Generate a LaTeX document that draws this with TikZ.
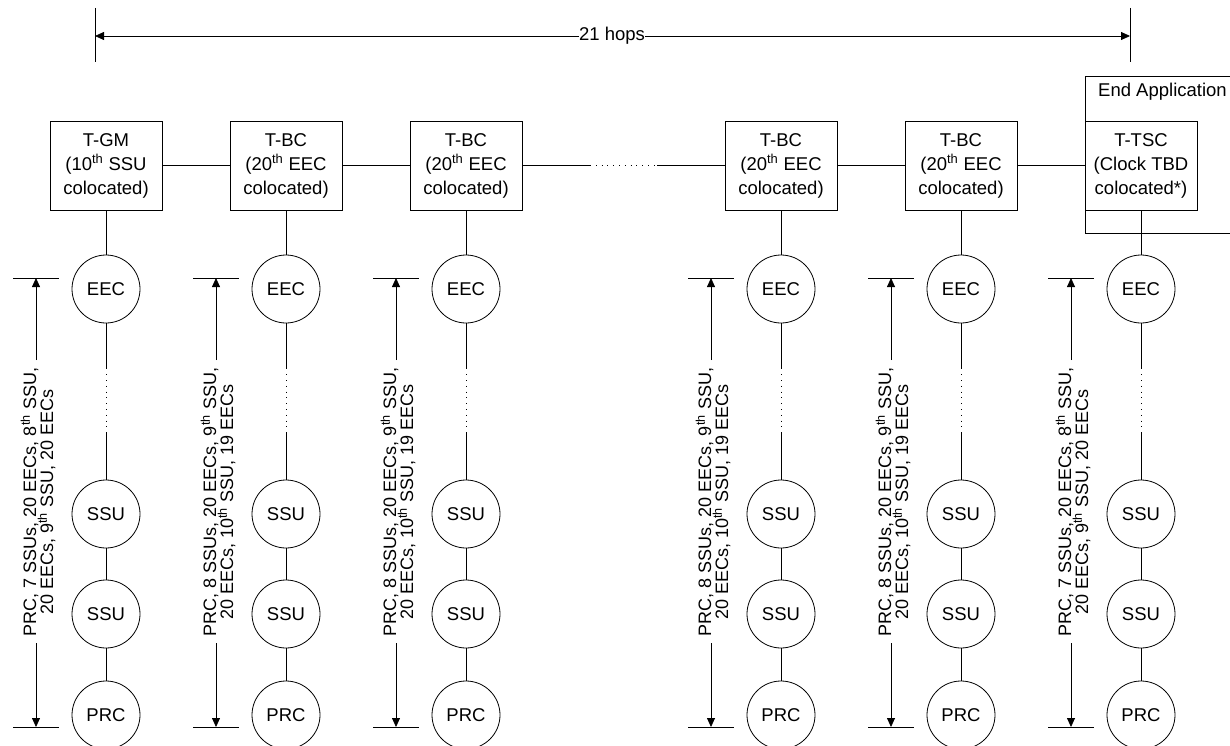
\documentclass[tikz,border=0pt]{standalone}
\usepackage{fontspec}
\setmainfont{Liberation Sans}
\usetikzlibrary{arrows.meta,calc}
\newcommand\mytightlines{\lineskiplimit=-30pt\relax\lineskip=0pt\relax}
\begin{document}
\begin{tikzpicture}[x=1bp,y=-1bp,
  unit/.style={draw, line width=0.8bp, minimum width=112bp, minimum height=89bp, align=center, inner sep=0pt, font=\fontsize{18.5bp}{24bp}\selectfont},
  clk/.style={draw, circle, line width=0.8bp, minimum size=68bp, inner sep=0pt, font=\fontsize{18.5bp}{21bp}\selectfont},
  link/.style={line width=0.8bp},
  dots/.style={line width=0.8bp, dash pattern=on 0.8bp off 5bp},
  dimarrow/.style={line width=0.8bp, -{Triangle[length=9bp,width=8bp]}},
  tickline/.style={line width=0.8bp},
  rlabel/.style={rotate=90, align=center, inner sep=0pt, font=\fontsize{18bp}{17bp}\selectfont\mytightlines},
  plain/.style={inner sep=0pt, font=\fontsize{18.5bp}{21bp}\selectfont}
]
\useasboundingbox (0,0) rectangle (1230,746);

% top dimension
\coordinate (dl) at (95,36);
\coordinate (dr) at (1130,36);
\draw[tickline] (95,8) -- (95,62);
\draw[tickline] (1130,8) -- (1130,62);
\node[plain] (hops) at (612,36) {21 hops};
\draw[dimarrow] (hops.west) -- (dl);
\draw[dimarrow] (hops.east) -- (dr);

% end application container
\begin{scope}
\clip (0,0) rectangle (1230,746);
\draw[link] (1245,76) -- (1085,76) -- (1085,233) -- (1245,233);
\end{scope}
\node[plain, anchor=west] (endapp) at (1098,92) {End Application};

\foreach \cx/\n/\bt/\lt in {
  106/1/{T-GM\\(10\textsuperscript{th} SSU\\colocated)}/{PRC, 7 SSUs, 20 EECs, 8\textsuperscript{th} SSU,\\20 EECs, 9\textsuperscript{th} SSU, 20 EECs},
  286/2/{T-BC\\(20\textsuperscript{th} EEC\\colocated)}/{PRC, 8 SSUs, 20 EECs, 9\textsuperscript{th} SSU,\\20 EECs, 10\textsuperscript{th} SSU, 19 EECs},
  466/3/{T-BC\\(20\textsuperscript{th} EEC\\colocated)}/{PRC, 8 SSUs, 20 EECs, 9\textsuperscript{th} SSU,\\20 EECs, 10\textsuperscript{th} SSU, 19 EECs},
  781/4/{T-BC\\(20\textsuperscript{th} EEC\\colocated)}/{PRC, 8 SSUs, 20 EECs, 9\textsuperscript{th} SSU,\\20 EECs, 10\textsuperscript{th} SSU, 19 EECs},
  961/5/{T-BC\\(20\textsuperscript{th} EEC\\colocated)}/{PRC, 8 SSUs, 20 EECs, 9\textsuperscript{th} SSU,\\20 EECs, 10\textsuperscript{th} SSU, 19 EECs},
  1141/6/{T-TSC\\(Clock TBD\\colocated*)}/{PRC, 7 SSUs, 20 EECs, 8\textsuperscript{th} SSU,\\20 EECs, 9\textsuperscript{th} SSU, 20 EECs}} {
  \node[unit, fill=white] (b\n) at (\cx,165.5) {\bt};
  \node[clk] (e\n) at (\cx,289) {EEC};
  \node[clk] (s\n) at (\cx,514) {SSU};
  \node[clk] (t\n) at (\cx,614) {SSU};
  \node[clk] (p\n) at (\cx,715) {PRC};
  \draw[link] (b\n) -- (e\n);
  \draw[link] (e\n.south) -- ++(0,45) coordinate (m\n);
  \draw[dots] (m\n) -- ++(0,65) coordinate (k\n);
  \draw[link] (k\n) -- (s\n.north);
  \draw[link] (s\n) -- (t\n);
  \draw[link] (t\n) -- (p\n);
  % dimension label
  \node[rlabel] (l\n) at (\cx-68,502) {\lt};
  \coordinate (ua\n) at (\cx-70,360);
  \coordinate (ut\n) at (\cx-70,278);
  \coordinate (da\n) at (\cx-70,643);
  \coordinate (dt\n) at (\cx-70,727);
  \draw[tickline] (\cx-93,278) -- (\cx-47,278);
  \draw[tickline] (\cx-93,727) -- (\cx-47,727);
  \draw[dimarrow] (ua\n) -- (ut\n);
  \draw[dimarrow] (da\n) -- (dt\n);
}

% horizontal links
\draw[link] (b1) -- (b2);
\draw[link] (b2) -- (b3);
\draw[link] (b3.east) -- (590,165.5) coordinate (h1);
\draw[dots] (h1) -- (657,165.5) coordinate (h2);
\draw[link] (h2) -- (b4.west);
\draw[link] (b4) -- (b5);
\draw[link] (b5) -- (b6);
\end{tikzpicture}
\end{document}
